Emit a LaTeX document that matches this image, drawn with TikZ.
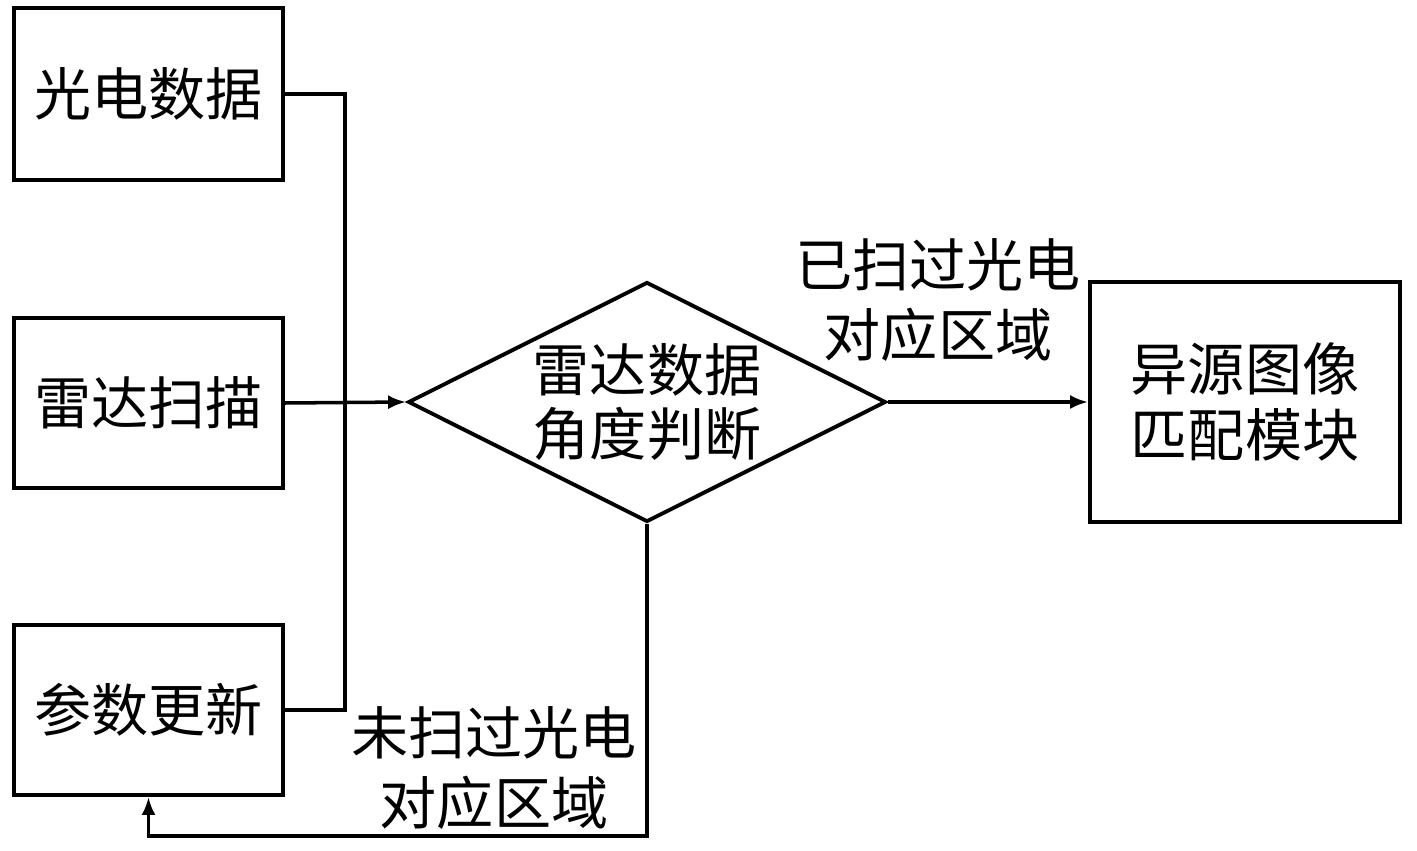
\documentclass[tikz,border=0pt]{standalone}
\usepackage{fontspec}
\newfontfamily\cjk{Noto Sans CJK SC}
\usetikzlibrary{shapes.geometric,arrows.meta}
\begin{document}
\begin{tikzpicture}[x=0.02cm,y=0.02cm,
  every node/.style={font=\cjk\fontsize{32.5}{38}\selectfont},
  box/.style={draw,line width=2.2pt,inner sep=0pt,align=center},
  dia/.style={draw,line width=2.2pt,shape=diamond,inner sep=0pt,aspect=2,align=center},
  lbl/.style={align=center,inner sep=0pt,font=\cjk\fontsize{32.5}{40}\selectfont},
  conn/.style={line width=2pt},
  arr/.style={conn,-{Latex[length=0.36cm,width=0.28cm]}}]
\useasboundingbox (0,0) rectangle (1417,850);
\node[box,minimum width=5.38cm,minimum height=3.44cm] (gd) at (148.5,756) {光电数据};
\node[box,minimum width=5.38cm,minimum height=3.40cm] (ld) at (148.5,447) {雷达扫描};
\node[box,minimum width=5.38cm,minimum height=3.40cm] (cs) at (148.5,140) {参数更新};
\node[dia,minimum width=9.56cm,minimum height=4.80cm] (jd) at (647,448) {雷达数据\\[-2pt]角度判断};
\node[box,minimum width=6.20cm,minimum height=4.80cm] (md) at (1245,448) {异源图像\\匹配模块};
\coordinate (vx) at (345,0);
\coordinate (lp) at (0,14);
\draw[conn] (gd.east) -| (vx |- ld.east) |- (cs.east);
\draw[arr] (ld.east) -- (jd.west);
\draw[arr] (jd.east) -- (md.west);
\draw[arr] (jd.south) -- (jd.south |- lp) -| (cs.south);
\node[lbl] (l1) at (938,550) {已扫过光电\\对应区域};
\node[lbl] (l2) at (494,82) {未扫过光电\\对应区域};
\end{tikzpicture}
\end{document}
